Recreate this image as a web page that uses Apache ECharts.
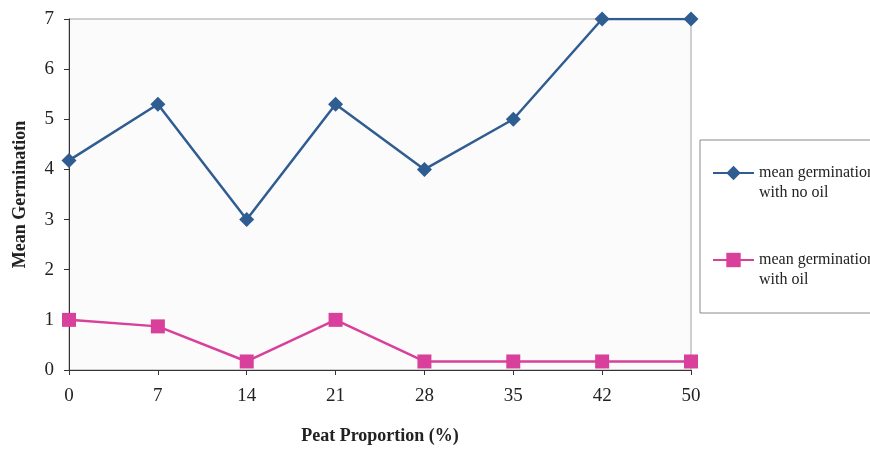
<!DOCTYPE html>
<html>
<head>
<meta charset="utf-8">
<title>Mean Germination vs Peat Proportion</title>
<script src="https://cdn.jsdelivr.net/npm/echarts@6/dist/echarts.min.js"></script>
<style>
  html, body { margin: 0; padding: 0; background: #ffffff; }
  #chart { width: 870px; height: 450px; }
</style>
</head>
<body>
<div id="chart"></div>
<script>
// Peat proportion categories (%)
const peatProportion = ['0', '7', '14', '21', '28', '35', '42', '50'];
// Mean germination per pot, without and with oil contamination
const germinationNoOil = [4.18, 5.3, 3.0, 5.3, 4.0, 5.0, 7.0, 7.0];
const germinationWithOil = [1.0, 0.87, 0.17, 1.0, 0.17, 0.17, 0.17, 0.17];
const seriesNames = ['mean germination\nwith no oil', 'mean germination\nwith oil'];
const yTicks = { min: 0, max: 7, interval: 1 };

const serif = '"Liberation Serif", "DejaVu Serif", serif';
const blue = '#2f5d92';
const pink = '#d8409b';

const chart = echarts.init(document.getElementById('chart'), null, { renderer: 'canvas' });

chart.setOption({
  backgroundColor: '#ffffff',
  animation: false,
  grid: {
    left: 69, right: 179, top: 19, bottom: 79,
    show: true,
    backgroundColor: '#fbfbfb',
    borderColor: '#a0a0a0',
    borderWidth: 1
  },
  legend: {
    orient: 'vertical',
    left: 700,
    top: 140,
    padding: [3, 40, 23, 12],
    itemGap: 27,
    itemWidth: 41,
    itemHeight: 18,
    borderColor: '#8a8a8a',
    borderWidth: 1,
    backgroundColor: '#ffffff',
    // a leading blank line keeps the marker level with the first text line
    formatter: (name) => '\n' + name,
    textStyle: {
      fontFamily: serif,
      fontSize: 16,
      color: '#222',
      lineHeight: 20
    },
    data: seriesNames
  },
  xAxis: {
    type: 'category',
    data: peatProportion,
    boundaryGap: false,
    name: 'Peat Proportion (%)',
    nameLocation: 'middle',
    nameGap: 57,
    nameTextStyle: { fontFamily: serif, fontSize: 18, fontWeight: 'bold', color: '#222' },
    axisLine: { lineStyle: { color: '#333', width: 1 } },
    axisTick: { show: true, alignWithLabel: true, length: 5, lineStyle: { color: '#333' } },
    axisLabel: { fontFamily: serif, fontSize: 19, color: '#222', margin: 17 },
    splitLine: { show: false }
  },
  yAxis: {
    type: 'value',
    min: yTicks.min,
    max: yTicks.max,
    interval: yTicks.interval,
    name: 'Mean Germination',
    nameLocation: 'middle',
    nameRotate: 90,
    nameGap: 40,
    nameTextStyle: { fontFamily: serif, fontSize: 18, fontWeight: 'bold', color: '#222' },
    axisLine: { show: true, lineStyle: { color: '#333', width: 1 } },
    axisTick: { show: true, length: 5, lineStyle: { color: '#333' } },
    axisLabel: { fontFamily: serif, fontSize: 19, color: '#222', margin: 15 },
    splitLine: { show: false }
  },
  series: [
    {
      name: seriesNames[0],
      type: 'line',
      data: germinationNoOil,
      symbol: 'diamond',
      symbolSize: 15,
      lineStyle: { color: blue, width: 2.5 },
      itemStyle: { color: blue },
      z: 3
    },
    {
      name: seriesNames[1],
      type: 'line',
      data: germinationWithOil,
      symbol: 'rect',
      symbolSize: 14,
      lineStyle: { color: pink, width: 2.5 },
      itemStyle: { color: pink },
      z: 3
    }
  ]
});
</script>
</body>
</html>
